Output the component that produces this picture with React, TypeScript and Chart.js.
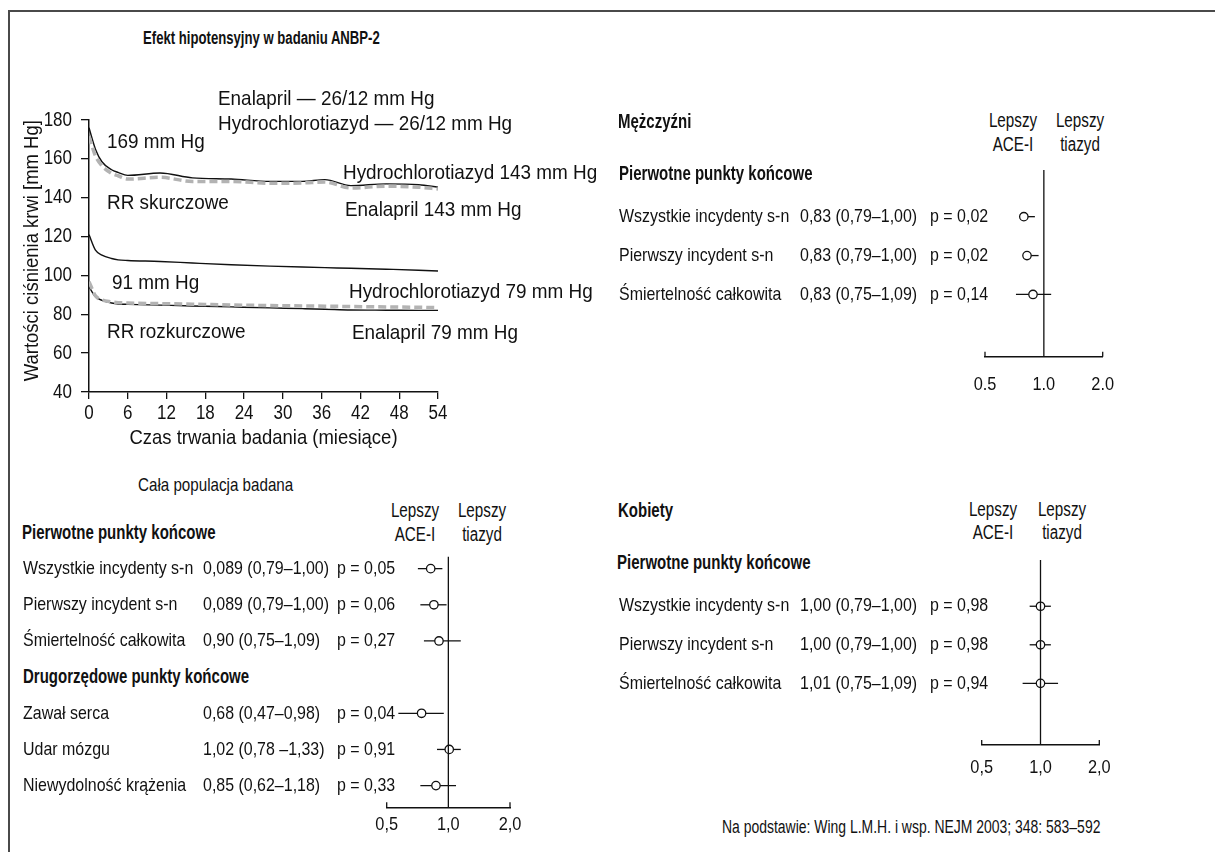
import React, { useEffect, useRef } from "react";
import { Chart, registerables } from "chart.js";

Chart.register(...registerables);

const SANS = "'Liberation Sans', Arial, 'DejaVu Sans', sans-serif";
const INK = "#111";
const GRAY = "#b3b3b3";

// ---------- blood pressure curves (months / mm Hg) ----------
const months = [0, 1, 2, 3.5, 4.5, 6, 11, 16, 22, 28, 33, 36.5, 40.5, 46, 51, 54];
const sysHydro = [176, 165, 158.5, 154.4, 153, 151.5, 152.7, 150.2, 149.6, 148.4, 148.4, 149.3, 146.2, 147.1, 146.7, 145.4];
const sysEnal = [171.6, 161.5, 156.5, 152.5, 151.3, 149.6, 150.5, 148.4, 148.4, 147.4, 147.6, 148.1, 145, 145.9, 145.4, 144.5];
const diaUpper = [121, 113, 110.5, 108.7, 108, 107.7, 107.2, 106.4, 105.5, 104.8, 104.3, 104, 103.7, 103.2, 102.7, 102.3];
const diaEnal = [96.8, 89.5, 87.4, 86.4, 86, 85.8, 85.5, 85.2, 84.8, 84.5, 84.3, 84.2, 84, 83.8, 83.6, 83.4];
const diaHydro = [94.2, 89, 87.2, 85.8, 85.3, 85.1, 84.7, 84.3, 83.8, 83.3, 82.9, 82.6, 82.2, 82.1, 82, 82];
const monthTicks = [0, 6, 12, 18, 24, 30, 36, 42, 48, 54];
const pressureTicks = [40, 60, 80, 100, 120, 140, 160, 180];
const xAxisTitle = "Czas trwania badania (miesiące)";
const yAxisTitle = "Wartości ciśnienia krwi [mm Hg]";

// ---------- forest plots (hazard ratios) ----------
const hrTicks = [0.5, 1, 2];

const menLabels = ["Wszystkie incydenty s-n", "Pierwszy incydent s-n", "Śmiertelność całkowita"];
const menCI = ["0,83 (0,79–1,00)", "0,83 (0,79–1,00)", "0,83 (0,75–1,09)"];
const menP = ["p = 0,02", "p = 0,02", "p = 0,14"];
const menEst = [0.79, 0.82, 0.88];
const menLo = [0.77, 0.8, 0.72];
const menHi = [0.9, 0.94, 1.09];
const menRows = [0, 1, 2];

const popLabels = ["Wszystkie incydenty s-n", "Pierwszy incydent s-n", "Śmiertelność całkowita", "Zawał serca", "Udar mózgu", "Niewydolność krążenia"];
const popCI = ["0,089 (0,79–1,00)", "0,089 (0,79–1,00)", "0,90 (0,75–1,09)", "0,68 (0,47–0,98)", "1,02 (0,78 –1,33)", "0,85 (0,62–1,18)"];
const popP = ["p = 0,05", "p = 0,06", "p = 0,27", "p = 0,04", "p = 0,91", "p = 0,33"];
const popEst = [0.82, 0.85, 0.9, 0.74, 1.01, 0.87];
const popLo = [0.71, 0.73, 0.76, 0.57, 0.88, 0.73];
const popHi = [0.935, 0.98, 1.15, 0.95, 1.15, 1.09];
const popRows = [0, 1, 2, 4, 5, 6];

const womenLabels = ["Wszystkie incydenty s-n", "Pierwszy incydent s-n", "Śmiertelność całkowita"];
const womenCI = ["1,00 (0,79–1,00)", "1,00 (0,79–1,00)", "1,01 (0,75–1,09)"];
const womenP = ["p = 0,98", "p = 0,98", "p = 0,94"];
const womenEst = [1.0, 1.0, 1.0];
const womenLo = [0.88, 0.88, 0.81];
const womenHi = [1.13, 1.13, 1.23];
const womenRows = [0, 1, 2];

// condensed text: regular face squeezed horizontally
function drawText(ctx: CanvasRenderingContext2D, text: string, x: number, y: number, size: number, k: number,
  align: CanvasTextAlign = "left", bold = false, rot = 0) {
  ctx.save();
  ctx.translate(x, y);
  if (rot) ctx.rotate(rot);
  ctx.scale(k, 1);
  ctx.font = `${bold ? "bold " : ""}${size}px ${SANS}`;
  ctx.fillStyle = INK;
  ctx.textAlign = align;
  ctx.textBaseline = "middle";
  ctx.fillText(text, 0, 0);
  ctx.restore();
}

function BPChart() {
  const ref = useRef<HTMLCanvasElement>(null);
  useEffect(() => {
    const pts = (arr: number[]) => months.map((m, i) => ({ x: m, y: arr[i] }));
    const gray = { borderColor: GRAY, borderWidth: 3.5, borderDash: [8, 4], pointRadius: 0, cubicInterpolationMode: "monotone" as const, fill: false };
    const black = { borderColor: INK, borderWidth: 1.4, pointRadius: 0, cubicInterpolationMode: "monotone" as const, fill: false };
    const chart = new Chart(ref.current!, {
      type: "line",
      data: {
        datasets: [
          { label: "Enalapril skurczowe", data: pts(sysEnal), ...gray },
          { label: "Hydrochlorotiazyd skurczowe", data: pts(sysHydro), ...black },
          { label: "Enalapril rozkurczowe", data: pts(diaEnal), ...gray },
          { label: "Hydrochlorotiazyd rozkurczowe", data: pts(diaHydro), ...black },
          { label: "rozkurczowe", data: pts(diaUpper), ...black },
        ],
      },
      options: {
        responsive: false,
        animation: false,
        events: [],
        layout: { padding: { left: 0, right: 22, top: 30, bottom: 0 } },
        plugins: { legend: { display: false }, tooltip: { enabled: false } },
        scales: {
          x: {
            type: "linear",
            min: 0,
            max: 54,
            afterBuildTicks: (s: any) => { s.ticks = monthTicks.map((v) => ({ value: v })); },
            afterFit: (s: any) => { s.height = 68; },
            ticks: { display: false, autoSkip: false, maxRotation: 0 },
            grid: { display: true, drawOnChartArea: false, drawTicks: true, tickLength: 7, color: INK, lineWidth: 1.3 },
            border: { display: true, color: INK, width: 1.5 },
          },
          y: {
            type: "linear",
            min: 40,
            max: 180,
            afterBuildTicks: (s: any) => { s.ticks = pressureTicks.map((v) => ({ value: v })); },
            afterFit: (s: any) => { s.width = 89; },
            ticks: { display: false, autoSkip: false },
            grid: { display: true, drawOnChartArea: false, drawTicks: true, tickLength: 8, color: INK, lineWidth: 1.3 },
            border: { display: true, color: INK, width: 1.5 },
          },
        },
      } as any,
      plugins: [{
        id: "bpText",
        afterDraw(c: any) {
          const { ctx, chartArea, scales } = c;
          const x = scales.x, y = scales.y;
          x.ticks.forEach((t: any) => drawText(ctx, String(t.value), x.getPixelForValue(t.value), chartArea.bottom + 21.3, 20, 0.85, "center"));
          y.ticks.forEach((t: any) => drawText(ctx, String(t.value), chartArea.left - 17, y.getPixelForValue(t.value), 20, 0.85, "right"));
          drawText(ctx, xAxisTitle, (chartArea.left + chartArea.right) / 2, chartArea.bottom + 46.2, 21, 0.88, "center");
          drawText(ctx, yAxisTitle, 32, (chartArea.top + chartArea.bottom) / 2 - 5.3, 21, 0.88, "center", false, -Math.PI / 2);
        },
      }],
    });
    return () => chart.destroy();
  }, []);
  return (
    <canvas ref={ref} width={460} height={370}
      style={{ position: "absolute", left: 0, top: 90, width: 460, height: 370 }} />
  );
}

type ForestProps = {
  left: number; top: number; width: number; height: number;
  pad: [number, number, number]; axisH: number; tickOff: number;
  yMin: number; yMax: number; cols: [number, number, number]; sep: string;
  labels: string[]; ci: string[]; p: string[];
  est: number[]; lo: number[]; hi: number[]; rows: number[];
};

function Forest(g: ForestProps) {
  const ref = useRef<HTMLCanvasElement>(null);
  useEffect(() => {
    const chart = new Chart(ref.current!, {
      type: "scatter",
      data: {
        datasets: [{
          label: "HR",
          data: g.est.map((v, i) => ({ x: v, y: g.rows[i] })),
          pointRadius: 4.2,
          pointHoverRadius: 4.2,
          pointBackgroundColor: "#fff",
          pointBorderColor: INK,
          pointBorderWidth: 1.3,
          showLine: false,
        }],
      },
      options: {
        responsive: false,
        animation: false,
        events: [],
        layout: { padding: { left: g.pad[0], right: g.pad[1], top: g.pad[2], bottom: 0 } },
        plugins: { legend: { display: false }, tooltip: { enabled: false } },
        scales: {
          x: {
            type: "logarithmic",
            min: 0.5,
            max: 2,
            afterBuildTicks: (s: any) => { s.ticks = hrTicks.map((v) => ({ value: v })); },
            afterFit: (s: any) => { s.height = g.axisH; },
            ticks: { display: false, autoSkip: false, maxRotation: 0 },
            grid: { display: false },
            border: { display: true, color: INK, width: 1.5 },
          },
          y: { type: "linear", display: false, reverse: true, min: g.yMin, max: g.yMax },
        },
      } as any,
      plugins: [{
        id: "forest",
        beforeDatasetsDraw(c: any) {
          const { ctx, chartArea, scales } = c;
          const x = scales.x, y = scales.y;
          ctx.save();
          ctx.strokeStyle = INK;
          ctx.lineWidth = 1.3;
          g.lo.forEach((lo, i) => {
            const py = y.getPixelForValue(g.rows[i]);
            ctx.beginPath();
            ctx.moveTo(x.getPixelForValue(lo), py);
            ctx.lineTo(x.getPixelForValue(g.hi[i]), py);
            ctx.stroke();
          });
          [hrTicks[0], hrTicks[hrTicks.length - 1]].forEach((v) => {
            const px = x.getPixelForValue(v);
            ctx.beginPath();
            ctx.moveTo(px, chartArea.bottom);
            ctx.lineTo(px, chartArea.bottom - 5);
            ctx.stroke();
          });
          ctx.restore();
          hrTicks.forEach((v) => drawText(ctx, v.toFixed(1).replace(".", g.sep), x.getPixelForValue(v), chartArea.bottom + g.tickOff, 19, 0.86, "center"));
          g.labels.forEach((t, i) => {
            const py = y.getPixelForValue(g.rows[i]);
            drawText(ctx, t, g.cols[0], py, 19, 0.84);
            drawText(ctx, g.ci[i], g.cols[1], py, 19, 0.84);
            drawText(ctx, g.p[i], g.cols[2], py, 19, 0.84);
          });
        },
        afterDatasetsDraw(c: any) {
          const { ctx, chartArea, scales } = c;
          const px = scales.x.getPixelForValue(1);
          ctx.save();
          ctx.strokeStyle = INK;
          ctx.lineWidth = 1.3;
          ctx.beginPath();
          ctx.moveTo(px, chartArea.top);
          ctx.lineTo(px, chartArea.bottom);
          ctx.stroke();
          ctx.restore();
        },
      }],
    });
    return () => chart.destroy();
  }, []);
  return (
    <canvas ref={ref} width={g.width} height={g.height}
      style={{ position: "absolute", left: g.left, top: g.top, width: g.width, height: g.height }} />
  );
}

function T(props: { x: number; y: number; s?: number; k?: number; b?: boolean; c?: boolean; children: React.ReactNode }) {
  const s = props.s ?? 20;
  const k = props.k ?? 0.82;
  return (
    <div style={{
      position: "absolute", left: props.x, top: props.y - s * 0.6, fontSize: s, lineHeight: `${s * 1.2}px`,
      fontWeight: props.b ? 700 : 400, whiteSpace: "nowrap", fontFamily: SANS, color: INK,
      transform: props.c ? `translateX(-50%) scaleX(${k})` : `scaleX(${k})`,
      transformOrigin: props.c ? "center center" : "left center",
    }}>{props.children}</div>
  );
}

export default function App() {
  const A = { s: 21, k: 0.9 };
  const H = { s: 19.5, k: 0.77, b: true };
  const L = { s: 19.5, k: 0.78, c: true };
  return (
    <div style={{ position: "absolute", left: 0, top: 0, width: 1215, height: 852, overflow: "hidden", background: "#fff", fontFamily: SANS }}>
      <div style={{ position: "absolute", left: 7.5, top: 10, width: 1300, height: 900, borderLeft: "2px solid #4a4a4a", borderTop: "2px solid #4a4a4a" }} />

      <T x={143} y={38.3} s={18} k={0.73} b>Efekt hipotensyjny w badaniu ANBP-2</T>

      <BPChart />
      <T x={218} y={97.8} {...A}>Enalapril — 26/12 mm Hg</T>
      <T x={218} y={122.2} {...A}>Hydrochlorotiazyd — 26/12 mm Hg</T>
      <T x={106.7} y={140.8} {...A}>169 mm Hg</T>
      <T x={106.7} y={201.3} {...A}>RR skurczowe</T>
      <T x={343.3} y={171.2} {...A}>Hydrochlorotiazyd 143 mm Hg</T>
      <T x={345} y={208.8} {...A}>Enalapril 143 mm Hg</T>
      <T x={111.7} y={281.5} {...A}>91 mm Hg</T>
      <T x={349.3} y={290.8} {...A}>Hydrochlorotiazyd 79 mm Hg</T>
      <T x={106.7} y={330.3} {...A}>RR rozkurczowe</T>
      <T x={351.7} y={331.5} {...A}>Enalapril 79 mm Hg</T>

      {/* Men */}
      <T x={618} y={121.7} {...H}>Mężczyźni</T>
      <T x={1012.7} y={120.8} {...L}>Lepszy</T>
      <T x={1012.7} y={144.2} {...L}>ACE-I</T>
      <T x={1080} y={120.8} {...L}>Lepszy</T>
      <T x={1080} y={144.2} {...L}>tiazyd</T>
      <T x={619} y={173.3} {...H}>Pierwotne punkty końcowe</T>
      <Forest left={600} top={90} width={615} height={320} pad={[385, 112.3, 80]} axisH={53.3} tickOff={28.3}
        yMin={-1.2} yMax={3.6} cols={[19, 200, 330]} sep="."
        labels={menLabels} ci={menCI} p={menP} est={menEst} lo={menLo} hi={menHi} rows={menRows} />

      {/* Whole population */}
      <T x={138.3} y={485} s={18.5} k={0.82}>Cała populacja badana</T>
      <T x={415} y={510.8} {...L}>Lepszy</T>
      <T x={415} y={534.2} {...L}>ACE-I</T>
      <T x={481.7} y={510.8} {...L}>Lepszy</T>
      <T x={481.7} y={534.2} {...L}>tiazyd</T>
      <T x={22} y={532.5} {...H}>Pierwotne punkty końcowe</T>
      <T x={23} y={676.7} {...H}>Drugorzędowe punkty końcowe</T>
      <Forest left={0} top={470} width={600} height={380} pad={[386.7, 90, 86.7]} axisH={42.7} tickOff={17.7}
        yMin={-0.33} yMax={6.6} cols={[23, 203, 337]} sep=","
        labels={popLabels} ci={popCI} p={popP} est={popEst} lo={popLo} hi={popHi} rows={popRows} />

      {/* Women */}
      <T x={618} y={510.8} {...H}>Kobiety</T>
      <T x={993.3} y={509.2} {...L}>Lepszy</T>
      <T x={993.3} y={532.5} {...L}>ACE-I</T>
      <T x={1061.7} y={509.2} {...L}>Lepszy</T>
      <T x={1061.7} y={532.5} {...L}>tiazyd</T>
      <T x={617} y={563} {...H}>Pierwotne punkty końcowe</T>
      <Forest left={600} top={470} width={615} height={340} pad={[381.7, 115.7, 90]} axisH={65} tickOff={23}
        yMin={-1.2} yMax={3.6} cols={[19, 200, 330]} sep=","
        labels={womenLabels} ci={womenCI} p={womenP} est={womenEst} lo={womenLo} hi={womenHi} rows={womenRows} />

      <T x={721.7} y={827.5} s={18} k={0.775}>Na podstawie: Wing L.M.H. i wsp. NEJM 2003; 348: 583–592</T>
    </div>
  );
}
